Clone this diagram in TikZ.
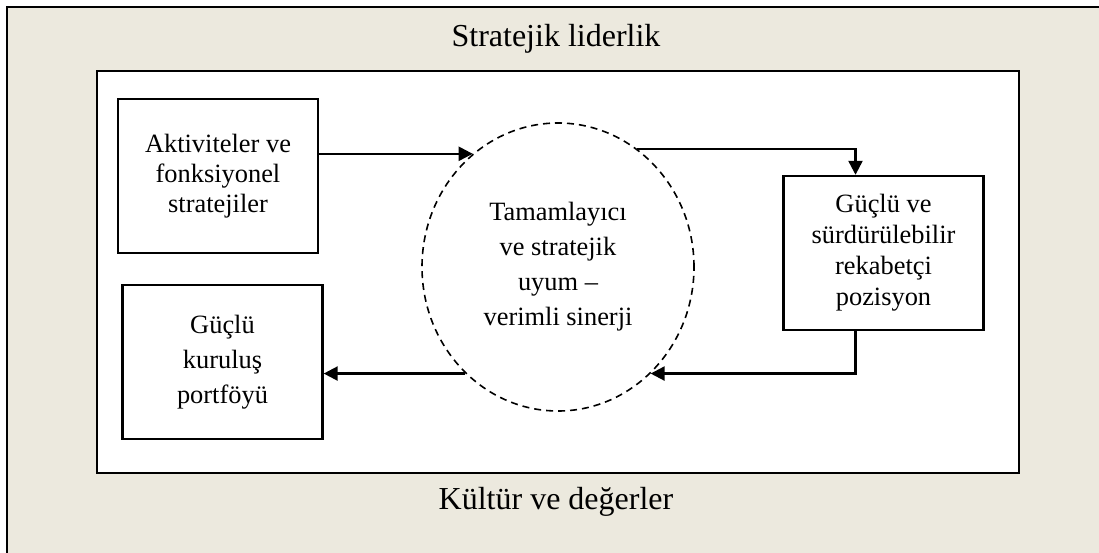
\documentclass[tikz,border=0pt]{standalone}
\usepackage{fontspec}
\setmainfont{Liberation Serif}
\usetikzlibrary{arrows.meta}
\usetikzlibrary{shapes.geometric,positioning}
\definecolor{framebg}{RGB}{236,233,222}

\begin{document}
\begin{tikzpicture}[x=1pt,y=-1pt]
  \tikzset{box/.style = {shape=rectangle,draw,line width=2.4pt,fill=white,minimum width=200pt,minimum height=154pt,inner sep=2pt,align=center}}
  \tikzset{synergy/.style = {shape=ellipse,draw,dash pattern=on 7pt off 5pt,line width=1.6pt,minimum width=272pt,minimum height=288pt,inner sep=1pt,align=center,font=\fontsize{26.4}{35}\selectfont}}
  \tikzset{outertext/.style = {anchor=base,font=\fontsize{32}{38}\selectfont}}
  \tikzset{flow/.style = {-tipF,line width=2.3pt}}
  \tikzset{%
  tipF/.tip={Triangle[length=14pt,width=14pt]},
}

  \useasboundingbox (0,0) rectangle (1099,553);
  \fill[framebg] (7,7) rectangle (1099,553);
  \draw[line width=2.4pt] (7,553) -- (7,7) -- (1099,7);
  \draw[line width=2.4pt,fill=white] (97,71) rectangle (1019,473);

	\node[outertext] (SL) at (556,47) {Stratejik liderlik};
	\node[outertext] (KD) at (556,509) {Kültür ve değerler};

	\node[box,font=\fontsize{26.4}{30}\selectfont] (AFS) at (218,176) {Aktiviteler ve\\fonksiyonel\\stratejiler};
	\node[box,font=\fontsize{26.4}{35}\selectfont] (GKP) at (222.5,362) {Güçlü\\kuruluş\\portföyü};
	\node[box,font=\fontsize{26.4}{31}\selectfont] (GSR) at (883.5,253) {Güçlü ve\\sürdürülebilir\\rekabetçi\\pozisyon};
	\node[synergy] (TSU) at (558,267) {Tamamlayıcı\\ve stratejik\\uyum --\\verimli sinerji};

    \foreach \from/\to in {AFS.east |- TSU.127/TSU.127, TSU.229/GKP.east |- TSU.229}
    \draw[flow] (\from) -- (\to);

    \draw[flow] (TSU.56) -| ([xshift=-28pt]GSR.north);
    \draw[flow] ([xshift=-28pt]GSR.south) |- (TSU.-49);

\end{tikzpicture}
\end{document}
